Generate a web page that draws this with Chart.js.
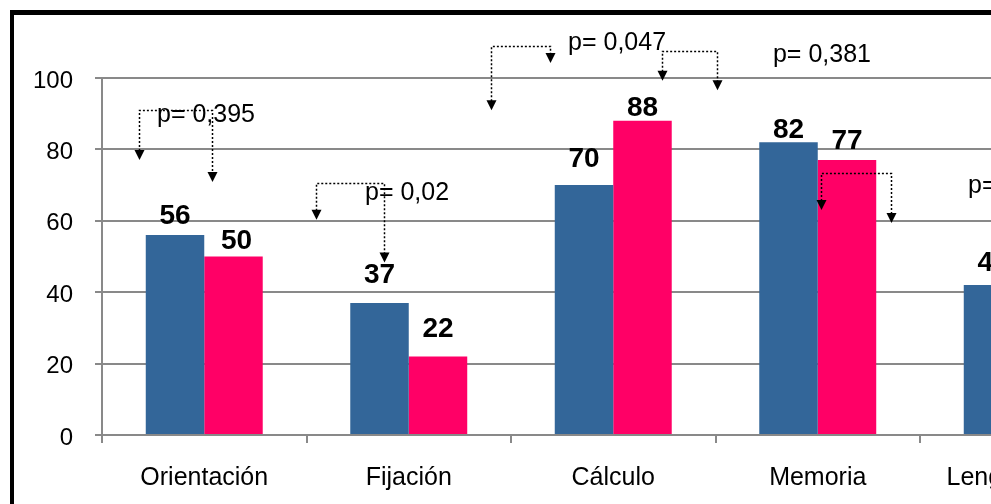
<!DOCTYPE html>
<html>
<head>
<meta charset="utf-8">
<script src="https://cdn.jsdelivr.net/npm/chart.js@4.4.1/dist/chart.umd.min.js"></script>
<style>
  html, body { margin: 0; padding: 0; background: #fff; overflow: hidden; width: 991px; height: 504px; }
  #wrap { position: absolute; left: 0; top: 0; width: 1200px; height: 504px; }
  #frame { position: absolute; left: 10px; top: 10px; width: 1160px; height: 600px;
           border-left: 4px solid #000; border-top: 5px solid #000; pointer-events: none; }
</style>
</head>
<body>
<div id="wrap"><canvas id="chart"></canvas></div>
<div id="frame"></div>
<script>
// data
const categories = ["Orientación", "Fijación", "Cálculo", "Memoria", "Lenguaje oral"];
const serieA = [56, 37, 70, 82, 42];
const serieB = [50, 22, 88, 77, 35];
const yTicks = [0, 20, 40, 60, 80, 100];

// p-value notes (x in category units, y in value units)
const pTexts = ["p= 0,395", "p= 0,02", "p= 0,047", "p= 0,381", "p= 0,261"];
const pTextX = [-0.231, 0.786, 1.779, 2.781, 3.735];
const pTextY = [90.3, 68.3, 110.5, 106.9, 70.3];

// dotted brackets: left x, right x, top, left tip, right tip
const brX1 = [-0.319, 0.546, 1.401, 2.237, 3.016];
const brX2 = [0.038, 0.879, 1.691, 2.509, 3.357];
const brTop = [91.0, 70.6, 109.0, 107.6, 73.4];
const brTip1 = [77.0, 60.3, 91.0, 99.2, 63.0];
const brTip2 = [70.9, 48.3, 104.2, 96.6, 59.4];

const FONT = "'Liberation Sans', Arial, sans-serif";
const GRAY = "#898989";

// bold value labels above bars
const valueLabels = {
  id: "valueLabels",
  afterDatasetsDraw(chart) {
    const ctx = chart.ctx;
    const lift = [[21, 30, 28.5, 14.5, 24], [18, 29.5, 14.5, 21.5, 22]];
    const dx = [[0, 0, 0, 0, 0], [3, 0, 0, 0, 0]];
    ctx.save();
    ctx.font = "bold 28px " + FONT;
    ctx.fillStyle = "#000";
    ctx.textAlign = "center";
    ctx.textBaseline = "alphabetic";
    chart.data.datasets.forEach((ds, di) => {
      chart.getDatasetMeta(di).data.forEach((bar, i) => {
        ctx.fillText(String(ds.data[i]), bar.x + dx[di][i], bar.y - lift[di][i] + 10);
      });
    });
    ctx.restore();
  }
};

// p-values with dotted arrows
const pNotes = {
  id: "pNotes",
  afterDraw(chart) {
    const ctx = chart.ctx;
    const xs = chart.scales.x, ys = chart.scales.y;
    const c0 = xs.getPixelForValue(0), step = xs.getPixelForValue(1) - c0;
    const px = v => c0 + v * step;
    const py = v => ys.getPixelForValue(v);
    ctx.save();
    ctx.strokeStyle = "#000";
    ctx.fillStyle = "#000";
    ctx.lineWidth = 1.5;
    brX1.forEach((_, i) => {
      const x1 = Math.round(px(brX1[i])) + 0.5, x2 = Math.round(px(brX2[i])) + 0.5;
      const top = Math.round(py(brTop[i])) + 0.5;
      const t1 = py(brTip1[i]), t2 = py(brTip2[i]);
      ctx.setLineDash([2, 2]);
      ctx.beginPath();
      ctx.moveTo(x1, t1 - 9);
      ctx.lineTo(x1, top);
      ctx.lineTo(x2, top);
      ctx.lineTo(x2, t2 - 9);
      ctx.stroke();
      ctx.setLineDash([]);
      [[x1, t1], [x2, t2]].forEach(([x, t]) => {
        ctx.beginPath();
        ctx.moveTo(x - 5, t - 10);
        ctx.lineTo(x + 5, t - 10);
        ctx.lineTo(x, t);
        ctx.closePath();
        ctx.fill();
      });
    });
    ctx.font = "25px " + FONT;
    ctx.textAlign = "left";
    ctx.textBaseline = "alphabetic";
    pTexts.forEach((t, i) => {
      ctx.fillText(t, px(pTextX[i]), py(pTextY[i]) + 9);
    });
    ctx.restore();
  }
};

new Chart(document.getElementById("chart"), {
  type: "bar",
  data: {
    labels: categories,
    datasets: [
      { data: serieA, backgroundColor: "#336699", borderWidth: 0,
        categoryPercentage: 0.572, barPercentage: 1 },
      { data: serieB, backgroundColor: "#ff0066", borderWidth: 0,
        categoryPercentage: 0.572, barPercentage: 1 }
    ]
  },
  options: {
    responsive: true,
    maintainAspectRatio: false,
    animation: false,
    layout: { padding: { top: 78, right: 75.5, bottom: 0, left: 0 } },
    plugins: { legend: { display: false }, tooltip: { enabled: false } },
    scales: {
      x: {
        afterFit: s => { s.height = 69; },
        grid: { offset: true, drawOnChartArea: false, drawTicks: true, tickLength: 8,
                color: GRAY, lineWidth: 2 },
        border: { color: GRAY, width: 2 },
        ticks: { color: "#000", padding: 20, maxRotation: 0, autoSkip: false,
                 font: { family: FONT, size: 25 } }
      },
      y: {
        min: 0, max: 100,
        afterFit: s => { s.width = 102; },
        afterBuildTicks: s => { s.ticks = yTicks.map(v => ({ value: v })); },
        grid: { color: GRAY, lineWidth: 2, tickLength: 7 },
        border: { color: GRAY, width: 2 },
        ticks: { color: "#000", padding: 22, labelOffset: 3, font: { family: FONT, size: 24 } }
      }
    }
  },
  plugins: [valueLabels, pNotes]
});
</script>
</body>
</html>
